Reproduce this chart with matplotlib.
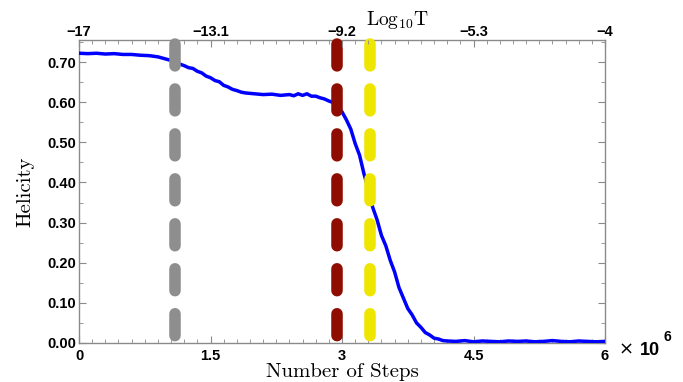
import numpy as np
import matplotlib
matplotlib.use("Agg")
import matplotlib.pyplot as plt
from matplotlib.ticker import MultipleLocator

# helicity vs. number of Monte Carlo steps (x in units of 1e6)
steps = [0.0, 0.1, 0.2, 0.3, 0.4, 0.5, 0.6, 0.7, 0.8, 0.9, 1.0, 1.05, 1.1,
         1.15, 1.2, 1.25, 1.3, 1.35, 1.4, 1.45, 1.5, 1.55, 1.6, 1.65, 1.7,
         1.75, 1.8, 1.85, 1.9, 2.0, 2.1, 2.2, 2.3, 2.4, 2.45, 2.5, 2.55,
         2.6, 2.65, 2.7, 2.75, 2.8, 2.85, 2.9, 2.95, 3.0, 3.05, 3.1, 3.15,
         3.2, 3.25, 3.3, 3.35, 3.4, 3.45, 3.5, 3.55, 3.6, 3.65, 3.7, 3.75,
         3.8, 3.85, 3.9, 3.95, 4.0, 4.05, 4.1, 4.15, 4.2, 4.3, 4.4, 4.5,
         4.6, 4.7, 4.8, 4.9, 5.0, 5.1, 5.2, 5.3, 5.4, 5.5, 5.6, 5.7, 5.8,
         5.9, 6.0]
helicity = [0.722, 0.721, 0.722, 0.720, 0.721, 0.719, 0.719, 0.717, 0.716,
            0.713, 0.707, 0.704, 0.700, 0.695, 0.691, 0.686, 0.684, 0.677,
            0.673, 0.665, 0.661, 0.654, 0.651, 0.642, 0.638, 0.632, 0.629,
            0.625, 0.623, 0.621, 0.619, 0.620, 0.617, 0.619, 0.616, 0.621,
            0.617, 0.621, 0.615, 0.615, 0.611, 0.608, 0.603, 0.599, 0.589,
            0.576, 0.556, 0.533, 0.497, 0.468, 0.422, 0.383, 0.338, 0.307,
            0.268, 0.242, 0.206, 0.177, 0.138, 0.112, 0.086, 0.070, 0.050,
            0.039, 0.026, 0.020, 0.012, 0.010, 0.006, 0.005, 0.004, 0.006,
            0.003, 0.005, 0.004, 0.003, 0.005, 0.004, 0.005, 0.003, 0.004,
            0.006, 0.004, 0.003, 0.005, 0.004, 0.003, 0.004]

# marked transition points (x in units of 1e6 steps)
mark_x = [1.095, 2.94, 3.32]
mark_colors = ["#8e8e8e", "#8f0d00", "#efe600"]

x_ticks = [0, 1.5, 3, 4.5, 6]
x_labels = ["0", "1.5", "3", "4.5", "6"]
top_labels = ["\u221217", "\u221213.1", "\u22129.2", "\u22125.3", "\u22124"]
y_ticks = [0.0, 0.1, 0.2, 0.3, 0.4, 0.5, 0.6, 0.7]

plt.rcParams["mathtext.fontset"] = "cm"

fig = plt.figure(figsize=(6.83, 3.82), dpi=100)
ax = fig.add_axes([0.1157, 0.1021, 0.7701, 0.7932])

ax.plot(steps, helicity, color="#0000ff", linewidth=2.5, zorder=3)

for xm, c in zip(mark_x, mark_colors):
    ax.plot([xm, xm], [0.745, 0.0], color=c, linewidth=8.3,
            solid_capstyle="round", dash_capstyle="round",
            dashes=(1.9, 2.0), zorder=5, clip_on=False)

ax.set_xlim(0, 6)
ax.set_ylim(0, 0.755)

tick_font = dict(family="Liberation Sans", weight="bold", size=10.5)
grey = "#8a8a8a"

ax.set_xticks(x_ticks)
ax.set_xticklabels(x_labels, **tick_font)
ax.set_yticks(y_ticks)
ax.set_yticklabels([f"{v:.2f}" for v in y_ticks], **tick_font)
ax.xaxis.set_minor_locator(MultipleLocator(0.15))
ax.yaxis.set_minor_locator(MultipleLocator(0.05))
ax.tick_params(which="both", direction="in", color=grey, top=True, right=True)
ax.tick_params(which="major", length=5, width=0.8, pad=2)
ax.tick_params(axis="x", which="major", pad=4)
ax.tick_params(which="minor", length=3, width=0.6)
for s in ax.spines.values():
    s.set_color(grey)
    s.set_linewidth(1.0)

# top axis: temperature scale
ax2 = ax.twiny()
ax2.set_xlim(0, 6)
ax2.set_xticks(x_ticks)
ax2.set_xticklabels(top_labels, **tick_font)
ax2.xaxis.set_minor_locator(MultipleLocator(0.15))
ax2.tick_params(which="both", direction="in", color=grey)
ax2.tick_params(which="major", length=5, width=0.8, pad=1)
ax2.tick_params(which="minor", length=3, width=0.6)
for s in ax2.spines.values():
    s.set_visible(False)

label_font = dict(family="cmr10", size=15)
ax.set_xlabel("Number of Steps", labelpad=0, **label_font)
ax.set_ylabel("Helicity", labelpad=9, **label_font)
fig.text(0.582, 0.947, r"$\mathrm{Log}_{10}\mathrm{T}$", fontsize=14,
         ha="center", va="center")

# scale factor for the step axis
fig.text(0.906, 0.085, "\u00d7", family="DejaVu Sans", size=13,
         ha="left", va="center")
fig.text(0.937, 0.083, "10", ha="left", va="center", **dict(tick_font, size=13))
fig.text(0.972, 0.118, "6", ha="left", va="center", **dict(tick_font, size=10))

fig.savefig("out.png", dpi=100, facecolor="white")
